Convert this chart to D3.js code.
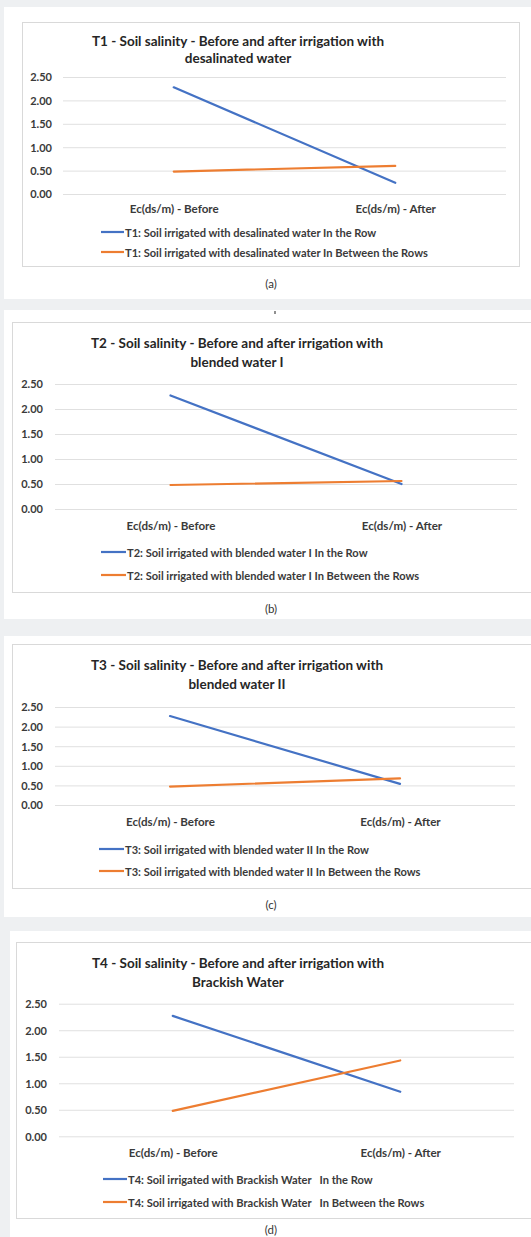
<!DOCTYPE html>
<html><head><meta charset="utf-8">
<script src="https://cdn.jsdelivr.net/npm/d3@7/dist/d3.min.js"></script>
<style>
body{margin:0;background:#eef0f2;}
svg{display:block;}
text{font-family:Lato,"Open Sans",sans-serif;}
</style>
</head><body>
<svg id="chart" width="531" height="1237"></svg>
<script>
// ---- data ----
const categories = ["Ec(ds/m) - Before", "Ec(ds/m) - After"];
const yTicks = [0, 0.5, 1, 1.5, 2, 2.5];
const titleLine1 = [
  "T1 - Soil salinity - Before and after irrigation with",
  "T2 - Soil salinity - Before and after irrigation with",
  "T3 - Soil salinity - Before and after irrigation with",
  "T4 - Soil salinity - Before and after irrigation with"
];
const titleLine2 = ["desalinated water", "blended water I", "blended water II", "Brackish Water"];
const captions = ["(a)", "(b)", "(c)", "(d)"];
const rowLabels = [
  "T1: Soil irrigated with desalinated water In the Row",
  "T2: Soil irrigated with blended water I In the Row",
  "T3: Soil irrigated with blended water II In the Row",
  "T4: Soil irrigated with Brackish Water   In the Row"
];
const betweenLabels = [
  "T1: Soil irrigated with desalinated water In Between the Rows",
  "T2: Soil irrigated with blended water I In Between the Rows",
  "T3: Soil irrigated with blended water II In Between the Rows",
  "T4: Soil irrigated with Brackish Water   In Between the Rows"
];
const t1Row = [2.28, 0.24], t1Between = [0.48, 0.60];
const t2Row = [2.27, 0.50], t2Between = [0.48, 0.56];
const t3Row = [2.27, 0.54], t3Between = [0.47, 0.68];
const t4Row = [2.27, 0.84], t4Between = [0.48, 1.43];
const rowSeries = [t1Row, t2Row, t3Row, t4Row];
const betweenSeries = [t1Between, t2Between, t3Between, t4Between];

// ---- layout (geometry only) ----
const layout = [
  {card:[4,7,527,292],  box:[22,22,497,244], titleX:238, titleY:[41,58],   px:[63,506], py:[194,77],     tickX:52, catY:209,  legX:[101,124], legY:[232,252],  capY:283},
  {card:[4,310,527,309],box:[12,322,530,270],titleX:237, titleY:[343,362], px:[55,517], py:[509,384],    tickX:43, catY:526,  legX:[101,126], legY:[552,575],  capY:608},
  {card:[4,636,527,281],box:[12,644,530,244],titleX:237, titleY:[665,684], px:[55,515], py:[805,707],    tickX:43, catY:822,  legX:[99,124],  legY:[849,871],  capY:904},
  {card:[10,931,521,320],box:[16,942,530,276],titleX:238,titleY:[963,982], px:[59,514], py:[1136.3,1003.7],tickX:47,catY:1153, legX:[103,127], legY:[1179,1202],capY:1229}
];

const BLUE = "#4472C4", ORANGE = "#ED7D31", TXT = "#3a3a3a";
const svg = d3.select("#chart");
svg.append("rect").attr("width",531).attr("height",1237).attr("fill","#eef0f2");

layout.forEach((L, i) => {
  const g = svg.append("g");
  g.append("rect").attr("x",L.card[0]).attr("y",L.card[1]).attr("width",L.card[2]).attr("height",L.card[3]).attr("fill","#fff");
  g.append("rect").attr("x",L.box[0]+0.5).attr("y",L.box[1]+0.5).attr("width",L.box[2]).attr("height",L.box[3])
    .attr("fill","#fff").attr("stroke","#d9d9d9").attr("stroke-width",1);

  const x = d3.scalePoint().domain(categories).range(L.px).padding(0.5);
  const y = d3.scaleLinear().domain([0, 2.5]).range(L.py);

  // title
  g.append("text").attr("x",L.titleX).attr("y",L.titleY[0]).attr("dominant-baseline","central")
    .attr("text-anchor","middle").attr("font-size",13.5).attr("font-weight","bold").attr("fill","#262626").text(titleLine1[i]);
  g.append("text").attr("x",L.titleX).attr("y",L.titleY[1]).attr("dominant-baseline","central")
    .attr("text-anchor","middle").attr("font-size",13.5).attr("font-weight","bold").attr("fill","#262626").text(titleLine2[i]);

  // gridlines + y ticks via axis
  const yAxis = d3.axisLeft(y).tickValues(yTicks).tickFormat(d3.format(".2f")).tickSize(-(L.px[1]-L.px[0])).tickPadding(L.px[0]-L.tickX);
  const ag = g.append("g").attr("transform",`translate(${L.px[0]},0)`).call(yAxis);
  ag.select(".domain").remove();
  ag.selectAll(".tick line").attr("stroke","#e0e0e0").attr("stroke-width",1);
  ag.selectAll(".tick text").attr("fill",TXT).attr("font-size",11).attr("font-weight","bold")
    .attr("font-family","Lato,'Open Sans',sans-serif").attr("dy","0.35em");

  // x category labels via axis
  const xAxis = d3.axisBottom(x).tickSize(0).tickPadding(0);
  const xg = g.append("g").attr("transform",`translate(0,${L.catY})`).call(xAxis);
  xg.select(".domain").remove();
  xg.selectAll(".tick text").attr("fill",TXT).attr("font-size",11.6).attr("font-weight","bold")
    .attr("font-family","Lato,'Open Sans',sans-serif").attr("dy","0.35em");

  // lines
  const line = d3.line().x((d,j)=>x(categories[j])).y(d=>y(d));
  g.append("path").datum(rowSeries[i]).attr("d",line).attr("fill","none").attr("stroke",BLUE).attr("stroke-width",2.2).attr("stroke-linecap","round");
  g.append("path").datum(betweenSeries[i]).attr("d",line).attr("fill","none").attr("stroke",ORANGE).attr("stroke-width",2.2).attr("stroke-linecap","round");

  // legend
  [[BLUE,rowLabels[i]],[ORANGE,betweenLabels[i]]].forEach(([c,t],k)=>{
    g.append("line").attr("x1",L.legX[0]).attr("x2",L.legX[1]).attr("y1",L.legY[k]).attr("y2",L.legY[k])
      .attr("stroke",c).attr("stroke-width",2.2);
    g.append("text").attr("x",L.legX[1]+1).attr("y",L.legY[k]).attr("dominant-baseline","central")
      .attr("font-size",11.1).attr("font-weight","bold").attr("fill",TXT).style("white-space","pre").text(t);
  });

  // caption
  g.append("text").attr("x",271).attr("y",L.capY).attr("dominant-baseline","central").attr("text-anchor","middle")
    .attr("font-size",11.5).attr("fill","#333").text(captions[i]);
});
// small stray mark between panels (a) and (b)
svg.append("rect").attr("x",274.5).attr("y",311).attr("width",1).attr("height",3).attr("fill","#222");
</script>
</body></html>
